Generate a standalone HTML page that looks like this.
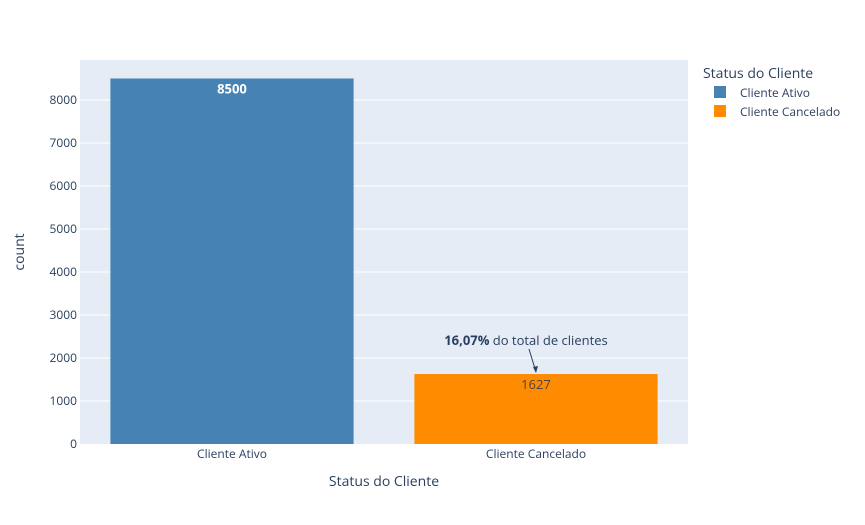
<!DOCTYPE html>
<html><head><meta charset="utf-8"><style>
body{margin:0;background:#fff;}
svg{display:block;font-family:"Open Sans","Liberation Sans",sans-serif;}
</style></head><body>
<svg id="c" width="865" height="525"></svg>
<script>
const categories=["Cliente Ativo","Cliente Cancelado"];
const counts=[8500,1627];
const colors=["#4682b4","#ff8c00"];
const yTicks=[0,1000,2000,3000,4000,5000,6000,7000,8000];
const annotationText="do total de clientes";
const annotationPct="16,07%";
const NS="http://www.w3.org/2000/svg";
const svg=document.getElementById('c');
const L=80,R=688,T=60,B=444,yMax=8930;
const y=v=>B-(v/yMax)*(B-T);
const band=(R-L)/categories.length;
const x=i=>L+band*i+band/2;
function mk(t,a,p){const e=document.createElementNS(NS,t);for(const k in a)e.setAttribute(k,a[k]);(p||svg).appendChild(e);return e;}
const bg=mk('rect',{x:L,y:T,width:R-L,height:B-T,fill:'#e5ecf6'});


yTicks.forEach(v=>{
 if(v>0){const g=mk('line',{x1:L,x2:R,y1:y(v),y2:y(v),stroke:'#fff','stroke-width':1});
 
 }
 const t=mk('text',{x:L-3,y:y(v)+4,'text-anchor':'end','font-size':12,fill:'#2a3f5f'});t.textContent=v;
 
 
});
categories.forEach((c,i)=>{
 const w=band*0.8;
 const r=mk('rect',{x:x(i)-w/2,y:y(counts[i]),width:w,height:B-y(counts[i]),fill:colors[i]});
 
 
 const lbl=mk('text',{x:x(i),y:y(counts[i])+15,'text-anchor':'middle','font-size':13,fill:i==0?'#fff':'#444','font-weight':i==0?'bold':'normal'});
 lbl.textContent=counts[i];
 
 
 const t=mk('text',{x:x(i),y:B+14,'text-anchor':'middle','font-size':12,fill:'#2a3f5f'});t.textContent=c;
 
 
});
// annotation
const ax=x(1),ay=y(counts[1]);
const ar=mk('line',{x1:ax-7,y1:ay-25,x2:ax,y2:ay-2,stroke:'#2a3f5f','stroke-width':1});


const ah=mk('path',{d:`M${ax-3} ${ay-7} L${ax} ${ay-1} L${ax+2} ${ay-8} Z`,fill:'#2a3f5f'});


const an=mk('text',{x:ax-10,y:ay-29,'text-anchor':'middle','font-size':13,fill:'#2a3f5f'});


const b=mk('tspan',{'font-weight':'bold'},an);b.textContent=annotationPct;
const s=mk('tspan',{},an);s.textContent=' '+annotationText;
// axis titles
const xt=mk('text',{x:(L+R)/2,y:486,'text-anchor':'middle','font-size':14,fill:'#2a3f5f'});xt.textContent='Status do Cliente';


const yt=mk('text',{x:0,y:0,'text-anchor':'middle','font-size':14,fill:'#2a3f5f',transform:`translate(24,${(T+B)/2}) rotate(-90)`});yt.textContent='count';


// legend
const lt=mk('text',{x:703,y:78,'font-size':14,fill:'#2a3f5f'});lt.textContent='Status do Cliente';


categories.forEach((c,i)=>{
 const g=mk('g',{});
 
 
 mk('rect',{x:714,y:86+i*19,width:12,height:12,fill:colors[i]},g);
 const t=mk('text',{x:740,y:97+i*19,'font-size':12,fill:'#2a3f5f'},g);t.textContent=c;
});
</script>
</body></html>
